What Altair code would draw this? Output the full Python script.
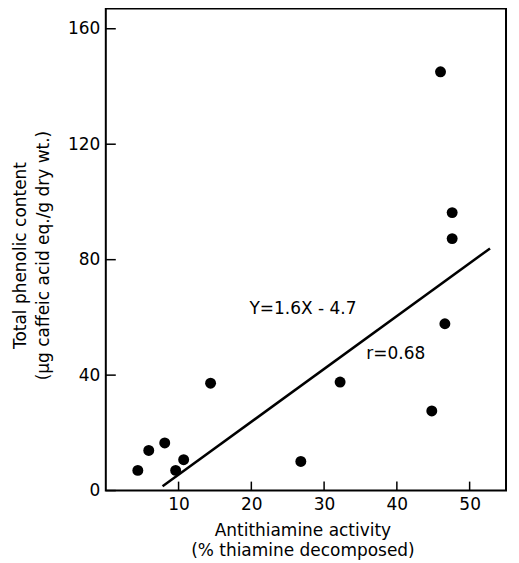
import altair as alt
import pandas as pd

# Data
activity = [4.4, 5.9, 8.1, 9.6, 10.7, 14.4, 26.8, 32.2, 44.8, 46.6, 46.0, 47.6, 47.6]
phenolic = [7.0, 13.9, 16.5, 7.0, 10.7, 37.2, 10.1, 37.6, 27.6, 57.8, 145.1, 96.3, 87.3]

fit_x = [7.8, 52.8]
fit_y = [1.5, 83.9]

x_ticks = [10, 20, 30, 40, 50]
y_ticks = [0, 40, 80, 120, 160]

ann_text = ["Y=1.6X - 4.7", "r=0.68"]
ann_x = [19.75, 35.8]
ann_y = [62.9, 47.3]

FONT = "DejaVu Sans"
W, H = 401, 483

pts = pd.DataFrame({"x": activity, "y": phenolic})
fit = pd.DataFrame({"x": fit_x, "y": fit_y})
ann = pd.DataFrame({"t": ann_text, "x": ann_x, "y": ann_y})
xt = pd.DataFrame({"x": x_ticks})
yt = pd.DataFrame({"y": y_ticks})

xscale = alt.Scale(domain=[0, 55], nice=False, zero=False)
yscale = alt.Scale(domain=[0, 167], nice=False, zero=False)

xaxis = alt.Axis(
    values=x_ticks, ticks=False, domain=False, grid=False,
    labelFont=FONT, labelFontSize=17, labelColor="black", labelPadding=6,
    title=["Antithiamine activity", "(% thiamine decomposed)"],
    titleFont=FONT, titleFontSize=17, titleFontWeight="normal", titleColor="black",
    titleX=197, titleY=45, titleAlign="center", titleBaseline="alphabetic",
    titleLineHeight=20,
)
yaxis = alt.Axis(
    values=y_ticks, ticks=False, domain=False, grid=False,
    labelFont=FONT, labelFontSize=17, labelColor="black", labelPadding=6,
    title=["Total phenolic content", "(µg caffeic acid eq./g dry wt.)"],
    titleFont=FONT, titleFontSize=17, titleFontWeight="normal", titleColor="black",
    titleAngle=270, titleX=-80, titleY=247, titleAlign="center",
    titleBaseline="alphabetic", titleLineHeight=23,
)

points = alt.Chart(pts).mark_circle(size=120, color="black", opacity=1).encode(
    x=alt.X("x:Q", scale=xscale, axis=xaxis),
    y=alt.Y("y:Q", scale=yscale, axis=yaxis),
)

line = alt.Chart(fit).mark_line(color="black", strokeWidth=2.5).encode(
    x=alt.X("x:Q", scale=xscale),
    y=alt.Y("y:Q", scale=yscale),
)

text = alt.Chart(ann).mark_text(
    font=FONT, fontSize=17, color="black", align="left", baseline="middle"
).encode(
    x=alt.X("x:Q", scale=xscale),
    y=alt.Y("y:Q", scale=yscale),
    text="t:N",
)

xtick = alt.Chart(xt).mark_rule(color="black", strokeWidth=1.5).encode(
    x=alt.X("x:Q", scale=xscale),
    y=alt.value(H),
    y2=alt.value(H - 9),
)
ytick = alt.Chart(yt).mark_rule(color="black", strokeWidth=1.5).encode(
    y=alt.Y("y:Q", scale=yscale),
    x=alt.value(0),
    x2=alt.value(10),
)

chart = alt.layer(points, line, text, xtick, ytick).properties(
    width=W, height=H,
    autosize=alt.AutoSizeParams(type="none"),
    padding={"left": 98, "top": 0, "right": 5, "bottom": 70},
    background="white",
).configure_view(stroke="black", strokeWidth=2)

chart.save("out.html", embed_options={"renderer": "svg", "actions": False})
